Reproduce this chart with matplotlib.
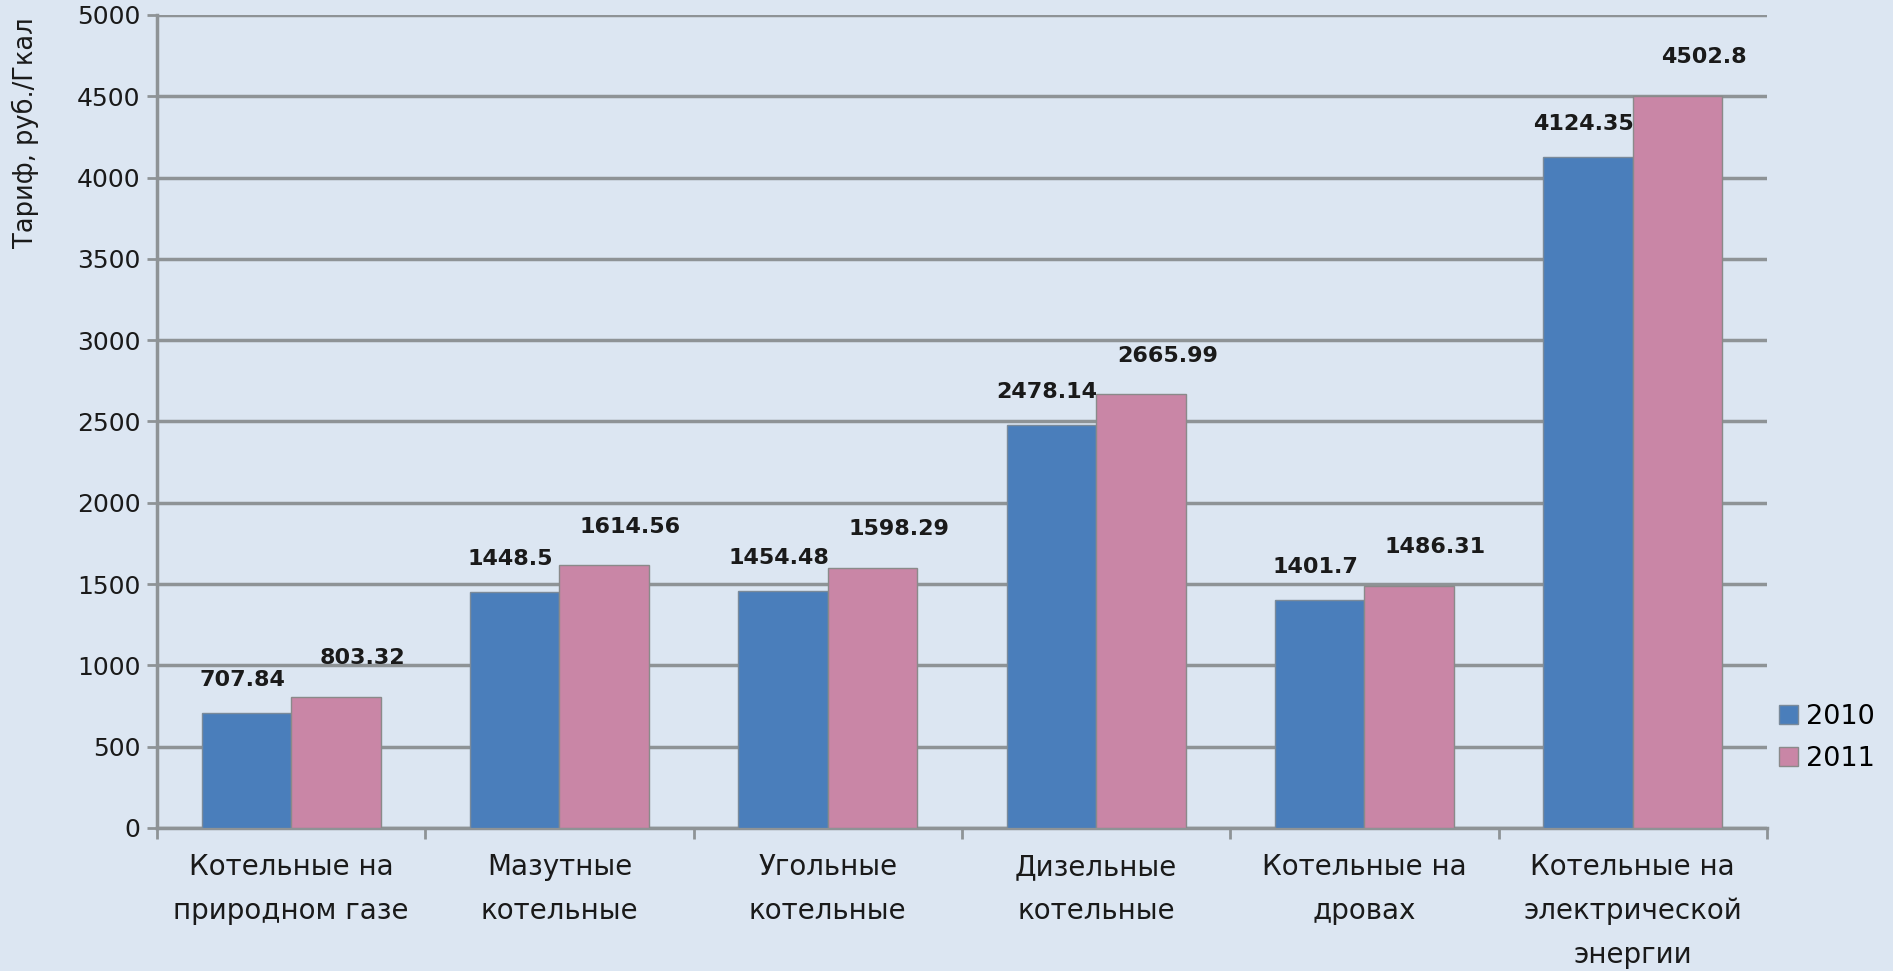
import matplotlib
matplotlib.use("Agg")
import matplotlib.pyplot as plt
import numpy as np

categories = ["Котельные на\nприродном газе", "Мазутные\nкотельные", "Угольные\nкотельные",
              "Дизельные\nкотельные", "Котельные на\nдровах", "Котельные на\nэлектрической\nэнергии"]
series_names = ["2010", "2011"]
values_2010 = [707.84, 1448.5, 1454.48, 2478.14, 1401.7, 4124.35]
values_2011 = [803.32, 1614.56, 1598.29, 2665.99, 1486.31, 4502.8]
labels_2010 = ["707.84", "1448.5", "1454.48", "2478.14", "1401.7", "4124.35"]
labels_2011 = ["803.32", "1614.56", "1598.29", "2665.99", "1486.31", "4502.8"]
yticks = [0, 500, 1000, 1500, 2000, 2500, 3000, 3500, 4000, 4500, 5000]

bg = "#dce6f2"
blue = "#4a7ebb"
pink = "#c986a6"
gridc = "#8e9396"

fig = plt.figure(figsize=(18.93, 9.71), dpi=100, facecolor=bg)
ax = fig.add_axes([0.0829, 0.1473, 0.9334 - 0.0829, 0.9846 - 0.1473])
ax.set_facecolor(bg)

x = np.arange(len(categories))
w = 1 / 3
b1 = ax.bar(x - w / 2, values_2010, w, color=blue, edgecolor="#7a8a9a", linewidth=1, label=series_names[0], zorder=3)
b2 = ax.bar(x + w / 2, values_2011, w, color=pink, edgecolor="#8a8a8a", linewidth=1, label=series_names[1], zorder=3)

for rect, lab in zip(b1, labels_2010):
    ax.annotate(lab, (rect.get_x() + rect.get_width() / 2, rect.get_height()),
                xytext=(-3, 24), textcoords="offset points", ha="center", va="center",
                fontsize=16, fontweight="bold", color="#1a1a1a", zorder=5)
for rect, lab in zip(b2, labels_2011):
    ax.annotate(lab, (rect.get_x() + rect.get_width() / 2, rect.get_height()),
                xytext=(19, 28), textcoords="offset points", ha="center", va="center",
                fontsize=16, fontweight="bold", color="#1a1a1a", zorder=5)

ax.set_xlim(-0.5, len(categories) - 0.5)
ax.set_ylim(0, 5000)
ax.set_yticks(yticks)
ax.set_yticklabels([str(t) for t in yticks], fontsize=18, color="#1a1a1a")
ax.yaxis.grid(True, color=gridc, linewidth=2.5, zorder=0)
ax.set_axisbelow(True)

ax.set_xticks(x)
ax.set_xticklabels(categories, fontsize=20, color="#1a1a1a", linespacing=1.72)
ax.tick_params(axis="x", length=0, pad=18)
ax.set_xticks(np.arange(-0.5, len(categories), 1), minor=True)
ax.tick_params(axis="x", which="minor", length=8, width=2, color=gridc, direction="out")
ax.tick_params(axis="y", length=7, width=2, color=gridc, pad=5)

for s in ["top", "right"]:
    ax.spines[s].set_visible(False)
ax.spines["left"].set_color(gridc)
ax.spines["left"].set_linewidth(2.5)
ax.spines["bottom"].set_color(gridc)
ax.spines["bottom"].set_linewidth(2.5)

ax.set_ylabel("Тариф, руб./Гкал", fontsize=18.5, color="#1a1a1a")
ax.yaxis.set_label_coords(-0.073, 0.855)

leg = fig.legend(handles=[b1, b2], labels=series_names, loc="center left",
                 bbox_to_anchor=(0.927, 0.24), frameon=False, fontsize=19.5,
                 handlelength=0.7, handleheight=0.7, handletextpad=0.3, labelspacing=0.6)

fig.savefig("out.png", dpi=100, facecolor=bg)
